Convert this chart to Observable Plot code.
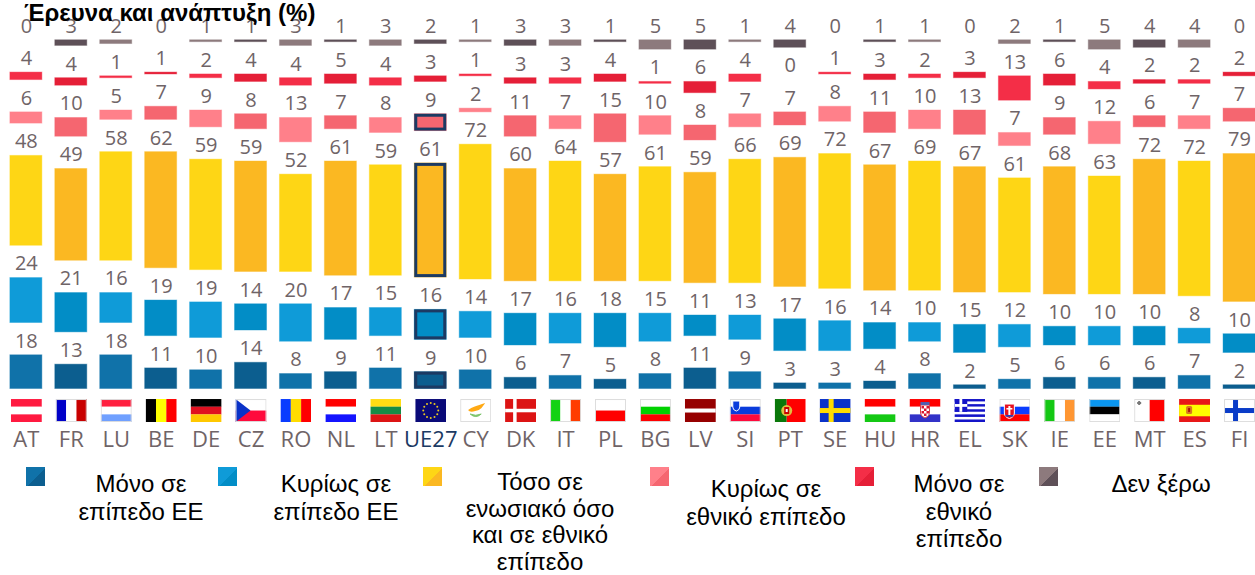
<!DOCTYPE html>
<html lang="el">
<head>
<meta charset="utf-8">
<script src="https://cdn.jsdelivr.net/npm/d3@7"></script>
<script src="https://cdn.jsdelivr.net/npm/@observablehq/plot@0.6"></script>
<style>
  html, body { margin: 0; padding: 0; background: #fff; overflow: hidden; }
  #page { position: relative; width: 1255px; height: 575px; overflow: hidden; }
  #title { position: absolute; left: 24px; top: 0; font: bold 24px/26px "Liberation Sans", Arial, sans-serif; color: #000; white-space: nowrap; z-index: 2; }
  #chart { position: absolute; left: 0; top: 0; }
  .lg { position: absolute; font: 24px/27.5px "Liberation Sans", Arial, sans-serif; color: #000; text-align: center; white-space: pre; transform: translateX(-50%); }
  .sw { position: absolute; width: 19px; height: 19px; }
</style>
</head>
<body>
<div id="page">
  <div id="chart"></div>
  <div id="title">Έρευνα και ανάπτυξη (%)</div>
</div>
<script>
const codes = ["AT","FR","LU","BE","DE","CZ","RO","NL","LT","UE27","CY","DK","IT","PL","BG","LV","SI","PT","SE","HU","HR","EL","SK","IE","EE","MT","ES","FI"];
const onlyEU  = [18,13,18,11,10,14, 8, 9,11, 9,10, 6, 7, 5, 8,11, 9, 3, 3, 4, 8, 2, 5, 6, 6, 6, 7, 2];
const mainEU  = [24,21,16,19,19,14,20,17,15,16,14,17,16,18,15,11,13,17,16,14,10,15,12,10,10,10, 8,10];
const both    = [48,49,58,62,59,59,52,61,59,61,72,60,64,57,61,59,66,69,72,67,69,67,61,68,63,72,72,79];
const mainNat = [ 6,10, 5, 7, 9, 8,13, 7, 8, 9, 2,11, 7,15,10, 8, 7, 7, 8,11,10,13, 7, 9,12, 6, 7, 7];
const onlyNat = [ 4, 4, 1, 1, 2, 4, 4, 5, 4, 3, 1, 3, 3, 4, 1, 6, 4, 0, 1, 3, 2, 3,13, 6, 4, 2, 2, 2];
const dontKnow= [ 0, 3, 2, 0, 1, 1, 3, 1, 3, 2, 1, 3, 3, 1, 5, 5, 1, 4, 0, 1, 1, 0, 2, 1, 5, 4, 4, 0];
const seriesValues = [onlyEU, mainEU, both, mainNat, onlyNat, dontKnow];
const lightColors = ["#1072a9","#0f9bd8","#fed615","#ff808a","#f42e47","#8d7a7d"];
const darkColors  = ["#0c5e8f","#028dc6","#fbb822","#f56670","#e51f37","#5e5058"];
const legendLabels = ["Μόνο σε\nεπίπεδο ΕΕ","Κυρίως σε\nεπίπεδο ΕΕ","Τόσο σε\nενωσιακό όσο\nκαι σε εθνικό\nεπίπεδο","Κυρίως σε\nεθνικό επίπεδο","Μόνο σε\nεθνικό\nεπίπεδο","Δεν ξέρω"];
const euCode = "UE27";
const gapUnits = 17.25;      // blank band between the stacked segments, in percentage units
const flagLevel = -11.5;     // flag centre on the y scale

// ---- stacked rows, with a gap between segments
const rows = [];
codes.forEach((code, i) => {
  let base = 0;
  seriesValues.forEach((vals, s) => {
    rows.push({code, s, value: vals[i], y1: base, y2: base + vals[i],
               color: (i % 2 ? darkColors : lightColors)[s]});
    base += vals[i] + gapUnits;
  });
});

// ---- flags
const svgFlag = inner => "data:image/svg+xml;utf8," + encodeURIComponent(
  `<svg xmlns="http://www.w3.org/2000/svg" viewBox="0 0 31 23" width="31" height="23">${inner}</svg>`);
const hs = (...c) => c.map((k, i) => `<rect x="0" y="${i*23/c.length}" width="31" height="${23/c.length+.1}" fill="${k}"/>`).join("");
const vs = (...c) => c.map((k, i) => `<rect x="${i*31/c.length}" y="0" width="${31/c.length+.1}" height="23" fill="${k}"/>`).join("");
const edge = `<rect x=".5" y=".5" width="30" height="22" fill="none" stroke="#ddd"/>`;
const cross = (bg, fg, w) => `<rect width="31" height="23" fill="${bg}"/><rect x="9" width="${w}" height="23" fill="${fg}"/><rect y="${11.5-w/2}" width="31" height="${w}" fill="${fg}"/>`;
const stars = d3.range(12).map(i => {
  const a = i * Math.PI / 6;
  return `<circle cx="${15.5+7.5*Math.cos(a)}" cy="${11.5+7.5*Math.sin(a)}" r="1" fill="#e8c820"/>`;
}).join("");
const flags = {
  AT: hs("#ff1a40","#fff","#ff1a40"),
  FR: vs("#0000c8","#fff","#c80000") + edge,
  LU: hs("#ff2040","#fff","#70a0ff") + edge,
  BE: vs("#000","#ffff00","#ff0000"),
  DE: hs("#000","#e01020","#ffc800"),
  CZ: hs("#fff","#ff0a3c") + `<path d="M0 0L15 11.5L0 23Z" fill="#0a32c8"/>` + edge,
  RO: vs("#0a3cff","#ffdc00","#ff0000"),
  NL: hs("#ff0000","#fff","#1414ff"),
  LT: hs("#ffdc14","#148c46","#dc1414"),
  UE27: `<rect width="31" height="23" fill="#0a0a78"/>` + stars,
  CY: `<rect width="31" height="23" fill="#fff"/><path d="M8 11C12 8 16 7 25 4C22 8 21 11 15 12C12 13 9 13 8 11Z" fill="#ffa914"/><path d="M10 15Q15.5 20 21 15Q15.5 17.5 10 15Z" fill="#7cc46a" stroke="#7cc46a"/>` + edge,
  DK: cross("#dc1414","#fff",3.5).replace('x="9"','x="8"'),
  IT: vs("#14d214","#fff","#ff3c00") + edge,
  PL: hs("#fff","#ff0000") + edge,
  BG: hs("#fff","#00d200","#ff0000") + edge,
  LV: `<rect width="31" height="23" fill="#960000"/><rect y="9.5" width="31" height="4" fill="#fff"/>`,
  SI: hs("#fff","#0a3cdc","#ff0a3c") + `<path d="M3 2H10V8Q10 11 6.5 12Q3 11 3 8Z" fill="#0a3cdc" stroke="#fff"/>` + edge,
  PT: `<rect width="12" height="23" fill="#0a780a"/><rect x="12" width="19" height="23" fill="#ff0000"/><circle cx="12" cy="11.5" r="5.5" fill="#e0c040"/><rect x="9.5" y="8" width="5" height="7" fill="#c80000"/><rect x="11" y="10" width="2" height="3" fill="#fff"/>`,
  SE: `<rect width="31" height="23" fill="#0a32c8"/><rect x="9" width="5" height="23" fill="#ffdc00"/><rect y="9" width="31" height="5" fill="#ffdc00"/>`,
  HU: hs("#ff0000","#fff","#14c814"),
  HR: hs("#ff0000","#fff","#3232c8") + `<path d="M11 6H20V14Q20 17 15.5 19Q11 17 11 14Z" fill="#fff" stroke="#d8404a"/><path d="M12 7h2.5v2.5H12zM17 7h2.5v2.5H17zM14.5 9.5H17V12h-2.5zM12 12h2.5v2.5H12zM17 12h2.5v2.5H17zM14.5 14.5H17V17h-2.5z" fill="#d81430"/><rect x="11" y="3" width="9" height="3" fill="#5060b0"/>`,
  EL: hs("#1414c8","#fff","#1414c8","#fff","#1414c8","#fff","#1414c8","#fff","#1414c8") + `<rect width="12.8" height="12.8" fill="#1414c8"/><rect x="5" width="2.8" height="12.8" fill="#fff"/><rect y="5" width="12.8" height="2.8" fill="#fff"/>`,
  SK: hs("#fff","#0a3cff","#ff0000") + `<path d="M5 5H15V14Q15 18 10 19.5Q5 18 5 14Z" fill="#e81020" stroke="#fff"/><rect x="9" y="7" width="2" height="9" fill="#fff"/><rect x="7" y="9" width="6" height="1.5" fill="#fff"/><rect x="6" y="16" width="8" height="1.6" fill="#2040c0"/>` + edge,
  IE: vs("#14c814","#fff","#ff9632") + edge,
  EE: hs("#0a96f0","#000","#fff") + edge,
  MT: `<rect width="31" height="23" fill="#fff"/><rect x="15.5" width="15.5" height="23" fill="#ff0000"/><path d="M3 4H7M5 2V6" stroke="#777" stroke-width="2"/>` + edge,
  ES: `<rect width="31" height="23" fill="#e81818"/><rect y="5.75" width="31" height="11.5" fill="#ffff00"/><rect x="7" y="7" width="6" height="8" rx="1.5" fill="#d87a20"/><rect x="9" y="9" width="2" height="4" fill="#b01010"/>`,
  FI: cross("#fff","#0a3cc8",5) + edge
};

// ---- chart
const unit = {fontFamily: "'Open Sans', sans-serif"};
const chart = Plot.plot({
  width: 1255,
  height: 460,
  marginTop: 0, marginLeft: 0, marginRight: 0, marginBottom: 72,
  style: {background: "transparent", fontFamily: unit.fontFamily},
  x: {domain: codes, range: [3.4, 1261.5], paddingInner: 0.288, paddingOuter: 0.144, round: false, label: null},
  y: {domain: [0, 207.5], range: [388.5, 0], axis: null},
  color: {type: "identity"},
  marks: [
    Plot.barY(rows, {x: "code", y1: "y1", y2: "y2", fill: "color", stroke: "color", strokeOpacity: 0.4, strokeWidth: 1}),
    Plot.barY(rows.filter(d => d.code === euCode && d.s < 4), {
      x: "code", y1: "y1", y2: "y2", fill: "none", stroke: "#1c3a63", strokeWidth: 3, inset: 1.5
    }),
    Plot.text(rows, {
      x: "code", y: "y2", text: d => String(d.value), dy: -14, lineAnchor: "middle",
      fill: "#6f6467", fontSize: 20, fontFamily: unit.fontFamily
    }),
    Plot.image(codes, {
      x: d => d, y: () => flagLevel, width: 31, height: 23, preserveAspectRatio: "none",
      src: d => svgFlag(flags[d])
    }),
    Plot.axisX({
      anchor: "bottom", tickSize: 0, tickPadding: 43, fontSize: 22, label: null,
      fill: d => d === euCode ? "#1c3a63" : "#6f6467", fontFamily: unit.fontFamily
    })
  ]
});
document.getElementById("chart").appendChild(chart);

// ---- legend (below the plot, HTML)
const legendSpots = [
  {sw: 26,  cx: 141,  top: 470, lh: 27.5},
  {sw: 218, cx: 336,  top: 470, lh: 27.5},
  {sw: 423, cx: 540,  top: 469, lh: 26.5},
  {sw: 650, cx: 766,  top: 475, lh: 27.5},
  {sw: 855, cx: 959,  top: 470, lh: 27.5},
  {sw: 1039, cx: 1161, top: 470, lh: 27.5}
];
const page = document.getElementById("page");
legendLabels.forEach((txt, i) => {
  const sw = document.createElement("div");
  sw.className = "sw";
  sw.style.left = legendSpots[i].sw + "px";
  sw.style.top = "467px";
  sw.style.background = `linear-gradient(135deg, ${lightColors[i]} 0 55%, ${darkColors[i]} 55% 100%)`;
  page.appendChild(sw);
  const lb = document.createElement("div");
  lb.className = "lg";
  lb.textContent = txt;
  lb.style.left = legendSpots[i].cx + "px";
  lb.style.top = legendSpots[i].top + "px";
  lb.style.lineHeight = legendSpots[i].lh + "px";
  page.appendChild(lb);
});
</script>
</body>
</html>
